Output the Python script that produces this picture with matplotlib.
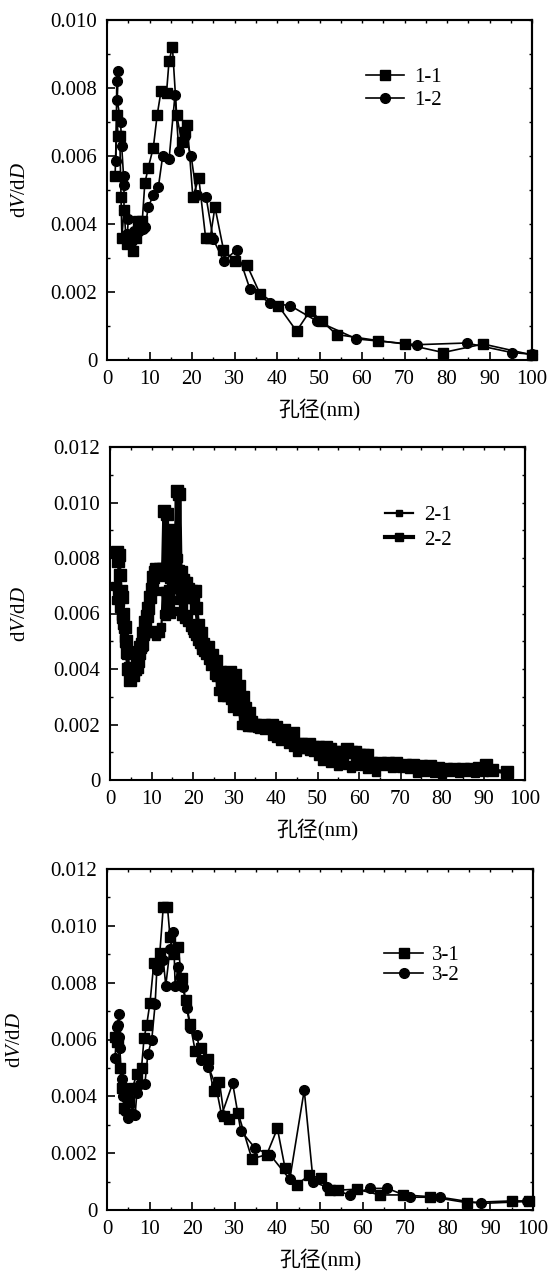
import numpy as np
import matplotlib
matplotlib.use('Agg')
import matplotlib.pyplot as plt
from matplotlib.ticker import MultipleLocator, FuncFormatter

plt.rcParams['font.family'] = ['Liberation Serif', 'Noto Sans CJK SC']
plt.rcParams['mathtext.fontset'] = 'custom'
plt.rcParams['mathtext.rm'] = 'Liberation Serif'
plt.rcParams['mathtext.it'] = 'Liberation Serif:italic'

# y values are given in units of 1e-3 (dV/dD)
# ---- panel 1
x_11 = [1.9, 2.3, 2.6, 3.0, 3.3, 3.5, 4.0, 4.6, 5.3, 6.1, 6.8, 7.3, 8.3, 8.9, 9.7,
        10.9, 11.8, 12.7, 14.0, 14.6, 15.4, 16.4, 17.6, 18.4, 18.9, 20.2, 21.6, 23.2,
        24.3, 25.4, 27.4, 30.1, 32.9, 36.0, 40.3, 44.6, 47.8, 50.5, 54.0, 63.8, 70.1,
        79.1, 88.5, 100.0]
y_11 = [5.4, 7.2, 6.6, 6.6, 4.8, 3.6, 4.4, 3.4, 3.5, 3.2, 3.6, 4.1, 4.1, 5.2, 5.65,
        6.25, 7.2, 7.9, 7.85, 8.8, 9.2, 7.2, 6.4, 6.7, 6.9, 4.8, 5.35, 3.6,
        3.6, 4.5, 3.25, 2.9, 2.8, 1.95, 1.6, 0.85, 1.45, 1.15, 0.75, 0.57, 0.47,
        0.22, 0.47, 0.15]
x_12 = [2.1, 2.3, 2.67, 2.4, 3.2, 3.45, 3.9, 4.0, 4.0, 5.0, 4.8, 5.8, 6.3, 7.5, 8.5,
        9.0, 9.7, 10.9, 12.1, 13.1, 14.6, 16.0, 16.9, 18.4, 19.8, 21.1, 23.3, 25.0,
        27.5, 30.5, 33.6, 38.4, 43.1, 49.3, 58.7, 72.9, 84.6, 95.2, 100.0]
y_12 = [5.85, 8.2, 8.5, 7.65, 7.0, 6.3, 5.4, 5.15, 4.4, 4.15, 3.7, 3.5, 3.8, 3.8, 3.85,
        3.9, 4.5, 4.85, 5.1, 6.0, 5.9, 7.8, 6.15, 6.6, 6.0, 4.85, 4.8, 3.55,
        2.9, 3.25, 2.1, 1.67, 1.6, 1.15, 0.62, 0.45, 0.5, 0.22, 0.17]

# ---- panel 2
x_21 = [1.3, 1.5, 1.8, 2.1, 2.4, 2.7, 3.0, 3.3, 3.6, 3.9,
        4.3, 4.7, 5.1, 5.5, 6.0, 6.5, 7.0, 7.5, 8.0, 8.5,
        9.0, 9.5, 10.0, 10.5, 11.0, 11.5, 12.0, 12.4, 12.7, 13.0,
        13.3, 13.6, 13.9, 14.2, 14.5, 14.8, 15.1, 15.4, 15.7, 16.0,
        16.3, 16.6, 16.9, 17.2, 17.5, 17.8, 18.1, 18.5, 18.9, 19.3,
        19.7, 20.1, 20.5, 21.0, 21.5, 22.0, 22.5, 23.0, 23.5, 24.0,
        24.5, 25.0, 25.5, 26.0, 26.5, 27.0, 27.5, 28.0, 28.5, 29.0,
        29.5, 30.0, 30.5, 31.0, 31.5, 32.0, 32.5, 33.0, 34.0, 35.0,
        36, 37, 38, 39, 40, 41, 42, 43, 44, 45,
        46, 47, 48, 49, 50, 51, 52, 53, 54, 55,
        56, 57, 58, 59, 60, 61, 62, 63, 64, 66,
        68, 70, 72, 74, 76, 78, 80, 82, 84, 86,
        88, 90]
y_21 = [7.0, 6.5, 6.8, 6.2, 6.4, 5.8, 5.6, 5.1, 4.9, 4.5,
        4.1, 4.0, 3.9, 3.8, 3.9, 4.1, 4.0, 4.5, 4.8, 5.2,
        5.4, 5.3, 5.3, 5.4, 5.2, 5.3, 5.3, 5.5, 6.8, 6.0,
        6.8, 5.9, 6.9, 6.2, 8.6, 6.0, 8.5, 6.1, 7.4, 6.9,
        8.0, 6.5, 7.6, 5.9, 6.2, 5.8, 7.2, 5.7, 6.0, 5.5,
        5.4, 5.3, 5.2, 5.0, 4.9, 4.7, 4.8, 4.5, 4.6, 4.1,
        4.3, 3.8, 3.9, 3.2, 3.5, 3.0, 3.2, 3.0, 3.1, 2.9,
        2.6, 2.9, 2.5, 2.7, 2.0, 2.2, 2.0, 1.9, 1.95, 1.9,
        1.85, 1.8, 1.9, 1.6, 1.5, 1.4, 1.45, 1.3, 1.2, 1.0,
        1.15, 1.1, 1.05, 1.0, 0.85, 0.7, 0.75, 0.6, 0.65, 0.5,
        0.6, 0.55, 0.45, 0.6, 0.5, 0.55, 0.4, 0.55, 0.3, 0.5,
        0.45, 0.45, 0.4, 0.25, 0.3, 0.25, 0.2, 0.3, 0.25, 0.3,
        0.25, 0.3]
x_22 = [1.6, 1.9, 2.1, 2.3, 2.6, 2.9, 3.2, 3.5, 3.8, 4.1,
        4.4, 4.8, 5.2, 5.6, 6.0, 6.4, 6.8, 7.2, 7.6, 8.0,
        8.4, 8.8, 9.2, 9.6, 10.0, 10.4, 10.8, 11.2, 11.6, 12.0,
        12.4, 12.8, 13.1, 13.4, 13.7, 14.0, 14.3, 14.6, 14.9, 15.2,
        15.5, 15.8, 16.1, 16.4, 16.7, 17.0, 17.3, 17.6, 18.0, 18.4,
        18.8, 19.2, 19.6, 20.0, 20.4, 20.8, 21.2, 21.6, 22.0, 22.5,
        23.0, 23.5, 24.0, 24.5, 25.0, 25.5, 26.0, 26.5, 27.0, 27.5,
        28.0, 28.5, 29.0, 29.5, 30.0, 30.5, 31.0, 31.5, 32.0, 32.5,
        33.0, 33.5, 34.0, 34.5, 35.0, 36.0, 37.0, 38.0, 39.0, 40.0,
        41, 42, 43, 44, 45, 46, 47, 48, 49, 50,
        51, 52, 53, 54, 55, 56, 57, 58, 59, 60,
        61, 62, 63, 65, 67, 69, 71, 73, 75, 77,
        79, 81, 83, 85, 87, 89, 90.5, 92, 95.6]
y_22 = [8.2, 7.9, 8.1, 7.4, 6.8, 6.6, 6.0, 5.5, 5.0, 4.6,
        4.0, 3.6, 3.9, 3.8, 4.0, 4.4, 4.3, 4.8, 4.9, 5.3,
        5.7, 5.9, 6.2, 6.6, 6.9, 7.3, 7.5, 7.6, 7.5, 7.6,
        7.5, 7.6, 9.7, 7.4, 9.6, 7.7, 8.8, 7.3, 9.0, 7.0,
        8.9, 7.2, 10.4, 7.0, 10.3, 7.5, 6.9, 7.2, 7.0, 7.1,
        6.9, 6.6, 6.8, 6.6, 6.8, 6.2, 5.6, 5.2, 5.3, 4.9,
        4.7, 4.8, 4.4, 4.5, 4.2, 4.3, 3.8, 3.9, 3.6, 3.7,
        3.8, 3.3, 3.9, 3.5, 3.8, 3.2, 3.4, 2.9, 3.0, 2.6,
        2.3, 2.4, 2.1, 2.0, 2.0, 1.95, 2.0, 1.9, 2.0, 1.9,
        1.7, 1.8, 1.6, 1.7, 1.3, 1.3, 1.2, 1.3, 1.2, 1.2,
        1.1, 1.2, 1.1, 1.0, 1.0, 0.9, 1.1, 1.0, 1.0, 0.9,
        0.9, 0.9, 0.6, 0.6, 0.6, 0.6, 0.55, 0.55, 0.5, 0.5,
        0.45, 0.4, 0.4, 0.4, 0.4, 0.45, 0.55, 0.35, 0.28]

# ---- panel 3
x_31 = [1.9, 2.3, 2.6, 3.0, 3.5, 4.0, 4.6, 5.2, 6.0, 7.0, 8.1, 8.7, 9.3, 10.1, 11.0,
        12.0, 12.4, 13.2, 14.2, 14.8, 15.7, 16.7, 17.5, 18.5, 19.5, 20.7, 22.1, 23.6,
        25.0, 26.4, 27.5, 28.7, 30.8, 34.0, 37.5, 40.0, 41.8, 44.5, 47.5, 50.2, 52.3,
        54.3, 58.6, 64.1, 69.6, 75.8, 84.4, 95.0, 99.0]
y_31 = [6.1, 5.9, 6.0, 5.0, 4.3, 3.6, 4.1, 3.8, 4.3, 4.8, 5.0, 6.05, 6.5, 7.3, 8.7,
        8.6, 9.05, 10.65, 10.65, 9.6, 9.0, 9.27, 8.15, 7.4, 6.55, 5.6, 5.7, 5.3,
        4.2, 4.5, 3.3, 3.2, 3.4, 1.8, 1.95, 2.87, 1.47, 0.88, 1.23, 1.11, 0.7,
        0.7, 0.73, 0.53, 0.53, 0.47, 0.26, 0.32, 0.32]
x_32 = [1.9, 2.3, 2.5, 2.8, 2.9, 3.0, 3.45, 3.7, 4.2, 5.0, 5.8, 6.6, 7.0, 7.75, 8.9,
        9.6, 10.5, 11.3, 11.7, 13.2, 13.8, 14.8, 15.6, 16.0, 16.7, 17.8, 18.7, 19.6,
        21.1, 22.1, 23.8, 25.5, 26.9, 29.5, 31.4, 34.8, 38.3, 42.9, 46.3, 48.4, 51.6,
        57.0, 61.7, 65.8, 71.1, 78.2, 87.7, 98.7]
y_32 = [5.35, 6.45, 6.5, 6.9, 6.1, 5.7, 4.6, 4.0, 3.5, 3.25, 3.4, 3.35, 4.1, 4.43, 4.45,
        5.5, 5.98, 7.25, 8.45, 8.8, 7.9, 9.2, 9.8, 7.9, 8.56, 7.86, 7.1, 6.4,
        6.16, 5.28, 5.04, 4.4, 3.34, 4.46, 2.79, 2.17, 1.94, 1.08, 4.22, 1.0, 0.8,
        0.53, 0.76, 0.76, 0.45, 0.45, 0.23, 0.3]

E3 = 1e-3
FS = 15


def yfmt(v, pos):
    if abs(v) < 1e-12:
        return '0'
    return '%.3f' % v


def setup(ax, ymax):
    ax.set_xlim(0, 100)
    ax.set_ylim(0, ymax)
    ax.xaxis.set_major_locator(MultipleLocator(10))
    ax.xaxis.set_minor_locator(MultipleLocator(5))
    ax.yaxis.set_major_locator(MultipleLocator(0.002))
    ax.yaxis.set_minor_locator(MultipleLocator(0.001))
    ax.yaxis.set_major_formatter(FuncFormatter(yfmt))
    ax.tick_params(which='major', direction='in', length=5.5, width=1.2,
                   labelsize=FS, pad=7)
    ax.tick_params(which='minor', direction='in', length=2, width=1)
    for s in ax.spines.values():
        s.set_linewidth(1.5)
    # small ticks on top and right
    sx = ax.secondary_xaxis('top')
    sx.xaxis.set_major_locator(MultipleLocator(5))
    sx.tick_params(direction='in', length=2, width=1, labeltop=False)
    sx.spines['top'].set_linewidth(1.5)
    sy = ax.secondary_yaxis('right')
    sy.yaxis.set_major_locator(MultipleLocator(0.001))
    sy.tick_params(direction='in', length=2, width=1, labelright=False)
    sy.spines['right'].set_linewidth(1.5)
    ax.set_xlabel('孔径(nm)', fontsize=FS, labelpad=7)
    ax.set_ylabel(r'd$\it{V}$/d$\it{D}$', fontsize=FS)


fig = plt.figure(figsize=(5.54, 12.73), dpi=100)

# panel 1
ax1 = fig.add_axes([107/554, 1 - 360/1273, 425/554, 340/1273])
ax1.plot(x_11, np.array(y_11)*E3, '-s', color='k', lw=1.2, ms=6.5, label='1-1', clip_on=False)
ax1.plot(x_12, np.array(y_12)*E3, '-o', color='k', lw=1.2, ms=7, label='1-2', clip_on=False)
setup(ax1, 0.010)
ax1.yaxis.set_label_coords(-0.181, 0.5)
ax1.legend(loc='upper left', bbox_to_anchor=(0.61, 0.86), frameon=False, fontsize=FS,
           handlelength=1.8, handletextpad=0.5, labelspacing=0.15,
           borderpad=0, borderaxespad=0)

# panel 2
ax2 = fig.add_axes([110/554, 1 - 780/1273, 415/554, 333/1273])
ax2.plot(x_21, np.array(y_21)*E3, '-s', color='k', lw=1.6, ms=5.5, label='2-1', clip_on=False)
ax2.plot(x_22, np.array(y_22)*E3, '-s', color='k', lw=3, ms=8, label='2-2', clip_on=False)
setup(ax2, 0.012)
ax2.yaxis.set_label_coords(-0.193, 0.5)
ax2.legend(loc='upper left', bbox_to_anchor=(0.663, 0.825), frameon=False, fontsize=FS,
           handlelength=1.35, handletextpad=0.5, labelspacing=0.25,
           borderpad=0, borderaxespad=0, markerscale=0.8)

# panel 3
ax3 = fig.add_axes([107/554, 1 - 1210/1273, 426/554, 341/1273])
ax3.plot(x_31, np.array(y_31)*E3, '-s', color='k', lw=1.2, ms=6.5, label='3-1', clip_on=False)
ax3.plot(x_32, np.array(y_32)*E3, '-o', color='k', lw=1.2, ms=7, label='3-2', clip_on=False)
setup(ax3, 0.012)
ax3.yaxis.set_label_coords(-0.192, 0.5)
ax3.legend(loc='upper left', bbox_to_anchor=(0.65, 0.775), frameon=False, fontsize=FS,
           handlelength=1.9, handletextpad=0.4, labelspacing=0.0,
           borderpad=0, borderaxespad=0)

fig.savefig('out.png', dpi=100)
